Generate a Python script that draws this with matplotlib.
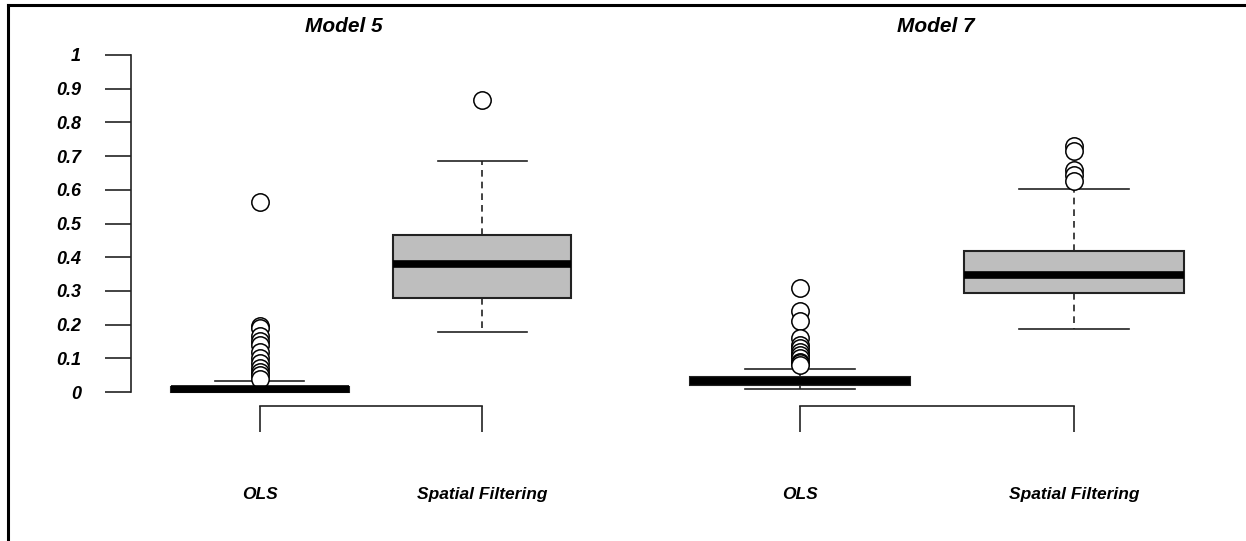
import matplotlib.pyplot as plt
from matplotlib.lines import Line2D

plt.rcParams['font.family'] = ['Liberation Sans', 'DejaVu Sans']

categories = ['OLS', 'Spatial Filtering']
titles = ['Model 5', 'Model 7']

# per model: [OLS, Spatial Filtering]
whislo = [[0.0, 0.178], [0.009, 0.187]]
q1 = [[0.0, 0.279], [0.021, 0.294]]
med = [[0.008, 0.380], [0.032, 0.347]]
q3 = [[0.015, 0.466], [0.045, 0.418]]
whishi = [[0.033, 0.685], [0.068, 0.602]]
fliers = [
    [[0.565, 0.195, 0.19, 0.165, 0.15, 0.14, 0.12, 0.10, 0.085, 0.07, 0.06, 0.05, 0.04],
     [0.866]],
    [[0.31, 0.24, 0.21, 0.16, 0.14, 0.13, 0.12, 0.11, 0.10, 0.09, 0.085, 0.08],
     [0.73, 0.715, 0.66, 0.645, 0.625]],
]
yticks = [0, 0.1, 0.2, 0.3, 0.4, 0.5, 0.6, 0.7, 0.8, 0.9, 1]

W, H = 1246, 541
fig = plt.figure(figsize=(W / 100, H / 100), dpi=100)

# plot regions in pixels (left, right), shared y range
regions = [(131, 611), (641, 1233)]
ytop, ybot = 41.5, 405.5

for m in range(2):
    x0, x1 = regions[m]
    ax = fig.add_axes([x0 / W, 1 - ybot / H, (x1 - x0) / W, (ybot - ytop) / H])
    stats = []
    for i in range(2):
        stats.append(dict(whislo=whislo[m][i], q1=q1[m][i], med=med[m][i],
                          q3=q3[m][i], whishi=whishi[m][i], fliers=fliers[m][i]))
    ax.bxp(stats, positions=[1, 2], widths=0.8, patch_artist=True,
           boxprops=dict(facecolor='#bebebe', edgecolor='#222222', linewidth=1.5),
           medianprops=dict(color='black', linewidth=5.5, solid_capstyle='butt'),
           whiskerprops=dict(color='#222222', linewidth=1.2, linestyle=(0, (4, 3))),
           capprops=dict(color='#222222', linewidth=1.2),
           capwidths=0.4,
           flierprops=dict(marker='o', markerfacecolor='white', markeredgecolor='black',
                           markersize=12.5, markeredgewidth=1.1))
    ax.set_xlim(0.42, 2.58)
    ax.set_ylim(-0.04, 1.04)
    for s in ['top', 'right']:
        ax.spines[s].set_visible(False)
    ax.spines['bottom'].set_bounds(1, 2)
    ax.spines['bottom'].set_color('#222222')
    ax.spines['bottom'].set_linewidth(1.2)
    ax.set_xticks([1, 2])
    ax.set_xticklabels(categories, fontsize=12.5, fontweight='bold', fontstyle='italic')
    ax.tick_params(axis='x', direction='out', length=19, width=1.2, pad=40, color='#222222')
    if m == 0:
        ax.spines['left'].set_bounds(0, 1)
        ax.spines['left'].set_color('#222222')
        ax.spines['left'].set_linewidth(1.2)
        ax.set_yticks(yticks)
        ax.set_yticklabels(['%g' % v for v in yticks], fontsize=13,
                           fontweight='bold', fontstyle='italic')
        ax.tick_params(axis='y', direction='out', length=19, width=1.2, pad=17, color='#222222')
    else:
        ax.spines['left'].set_visible(False)
        ax.set_yticks([])

fig.text(344 / W, 1 - 27 / H, titles[0], ha='center', va='center', fontsize=15,
         fontweight='bold', fontstyle='italic')
fig.text(936 / W, 1 - 27 / H, titles[1], ha='center', va='center', fontsize=15,
         fontweight='bold', fontstyle='italic')

# outer frame (top and left edges only visible)
fig.add_artist(Line2D([7.5 / W, 1], [1 - 5 / H, 1 - 5 / H], color='black', linewidth=2.2))
fig.add_artist(Line2D([7.5 / W, 7.5 / W], [0, 1 - 5 / H], color='black', linewidth=2.2))

fig.savefig('out.png', dpi=100)
